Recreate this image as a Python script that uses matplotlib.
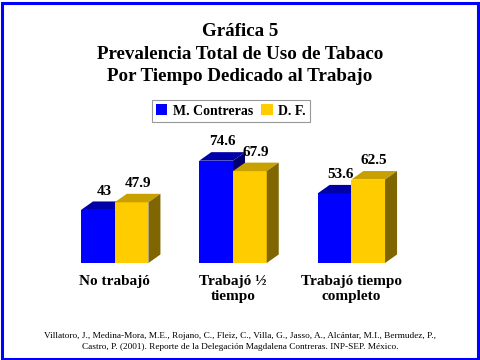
import matplotlib.pyplot as plt
from matplotlib.patches import Polygon, Rectangle

categories = ["No trabajó", "Trabajó ½\ntiempo", "Trabajó tiempo\ncompleto"]
series_names = ["M. Contreras", "D. F."]
contreras = [43, 74.6, 53.6]
df_vals = [47.9, 67.9, 62.5]

front_colors = ["#0000FF", "#FFCC00"]
top_colors = ["#0000A8", "#C8A000"]
side_colors = ["#000070", "#806600"]

plt.rcParams['font.family'] = ['Liberation Serif', 'DejaVu Serif']

fig = plt.figure(figsize=(4.8, 3.6), dpi=100)
ax = fig.add_axes([50 / 480, 97 / 360, 380 / 480, 163 / 360])

base = 9.0
ax.set_xlim(-0.547, 2.665)
ax.set_ylim(base, base + 163 / 1.56)
ax.axis('off')

bar_w = 0.285
dx = 12 / 118.3   # depth offset in x units
dy = 8.5 / 1.56   # depth offset in value units


def bar3d(x0, v, k):
    x1 = x0 + bar_w
    ax.add_patch(Rectangle((x0, base), bar_w, v - base, facecolor=front_colors[k],
                           edgecolor='none', zorder=2 + k))
    ax.add_patch(Polygon([(x0, v), (x1, v), (x1 + dx, v + dy), (x0 + dx, v + dy)],
                         closed=True, facecolor=top_colors[k], edgecolor='none', zorder=2 + k))
    ax.add_patch(Polygon([(x1, base), (x1 + dx, base + dy), (x1 + dx, v + dy), (x1, v)],
                         closed=True, facecolor=side_colors[k], edgecolor='none', zorder=2 + k))
    ax.text(x0 + bar_w / 2 + dx / 2, v + dy + 2.5, f"{v:g}", ha='center', va='bottom',
            fontsize=11, fontweight='bold', zorder=5)


for i in range(len(categories)):
    bar3d(i - bar_w, contreras[i], 0)
    bar3d(i, df_vals[i], 1)
    ax.text(i, base - 8, categories[i], ha='center', va='top', fontsize=11,
            fontweight='bold', linespacing=1.2)

# title
fig.text(0.5, 1 - 23.5 / 360, "Gráfica 5\nPrevalencia Total de Uso de Tabaco\nPor Tiempo Dedicado al Trabajo",
         ha='center', va='top', fontsize=13.7, fontweight='bold', linespacing=1.4)

# legend
leg_handles = [Rectangle((0, 0), 1, 1, facecolor=c, edgecolor='none') for c in front_colors]
leg = fig.legend(leg_handles, series_names, loc='center', bbox_to_anchor=(231 / 480, 1 - 111 / 360),
                 ncol=2, frameon=True, fancybox=False, edgecolor='#808080',
                 prop={'weight': 'bold', 'size': 10}, handlelength=0.8, handleheight=0.8,
                 handletextpad=0.4, columnspacing=0.6, borderpad=0.3, borderaxespad=0)
leg.get_frame().set_linewidth(0.8)

# footer
fig.text(0.5, 1 - 332.5 / 360,
         "Villatoro, J., Medina-Mora, M.E., Rojano, C., Fleiz, C., Villa, G., Jasso, A., Alcántar, M.I., Bermudez, P.,\n"
         "Castro, P. (2001). Reporte de la Delegación Magdalena Contreras. INP-SEP. México.",
         ha='center', va='top', fontsize=6.7, linespacing=1.45)

# border
fig.patches.append(Rectangle((1.5 / 480, 1.5 / 360), 476 / 480, 356 / 360, transform=fig.transFigure,
                             fill=False, edgecolor='#0000FF', linewidth=2.2))

fig.savefig("out.png", dpi=100)
